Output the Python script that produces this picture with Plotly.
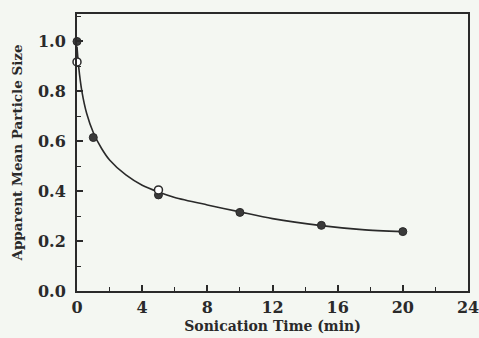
import plotly.graph_objects as go

# Data
filled_x = [0, 1, 5, 10, 15, 20]
filled_y = [1.0, 0.615, 0.385, 0.315, 0.263, 0.238]

open_x = [0, 5]
open_y = [0.918, 0.405]

curve_x = [0, 0.1, 0.3, 0.6, 1.0, 1.5, 2.0, 3.0, 4.0, 5.0, 6.0, 8.0, 10, 12, 15, 17.5, 20]
curve_y = [0.98, 0.9, 0.8, 0.71, 0.635, 0.572, 0.525, 0.465, 0.424, 0.397, 0.375, 0.345,
           0.317, 0.29, 0.262, 0.246, 0.238]

x_ticks = [0, 4, 8, 12, 16, 20, 24]
y_ticks = [0.0, 0.2, 0.4, 0.6, 0.8, 1.0]

ink = "#2a2a2a"
bg = "#f4f7f2"
font_family = "DejaVu Serif"

fig = go.Figure()
fig.add_trace(go.Scatter(x=curve_x, y=curve_y, mode="lines",
                         line=dict(color=ink, width=1.6, shape="spline", smoothing=0.8),
                         hoverinfo="skip", showlegend=False))
fig.add_trace(go.Scatter(x=filled_x, y=filled_y, mode="markers", cliponaxis=False,
                         marker=dict(symbol="circle", size=8, color="#3a3a3a",
                                     line=dict(color=ink, width=1)),
                         showlegend=False))
fig.add_trace(go.Scatter(x=open_x, y=open_y, mode="markers", cliponaxis=False,
                         marker=dict(symbol="circle", size=8, color="white",
                                     line=dict(color=ink, width=1.5)),
                         showlegend=False))

fig.update_layout(
    width=479, height=338,
    margin=dict(l=77, r=11, t=14, b=47),
    paper_bgcolor=bg, plot_bgcolor=bg,
    font=dict(family=font_family, color=ink, size=14),
    xaxis=dict(range=[0, 24], tickvals=x_ticks, ticktext=[str(v) for v in x_ticks],
               ticks="inside", ticklen=6, tickwidth=1.5, tickcolor=ink,
               minor=dict(dtick=2, ticks="inside", ticklen=4, tickwidth=1.2, tickcolor=ink),
               showline=True, linecolor=ink, linewidth=2, mirror=True, automargin=False,
               ticklabeloverflow="allow",
               showgrid=False, zeroline=False, ticklabelstandoff=1,
               tickfont=dict(family=font_family, size=16, color=ink, weight="bold"),
               title=dict(text="Sonication Time (min)", standoff=5,
                          font=dict(family=font_family, size=14, color=ink, weight="bold"))),
    yaxis=dict(range=[0, 1.11], tickvals=y_ticks, ticktext=[f"{v:.1f}" for v in y_ticks],
               ticks="inside", ticklen=6, tickwidth=1.5, tickcolor=ink,
               minor=dict(dtick=0.1, ticks="inside", ticklen=4, tickwidth=1.2, tickcolor=ink),
               showline=True, linecolor=ink, linewidth=2, mirror=True, automargin=False,
               ticklabeloverflow="allow",
               showgrid=False, zeroline=False, ticklabelstandoff=6,
               tickfont=dict(family=font_family, size=16, color=ink, weight="bold"),
               title=dict(text="Apparent Mean Particle Size", standoff=12,
                          font=dict(family=font_family, size=13.5, color=ink, weight="bold"))),
)

fig.write_html("out.html")
